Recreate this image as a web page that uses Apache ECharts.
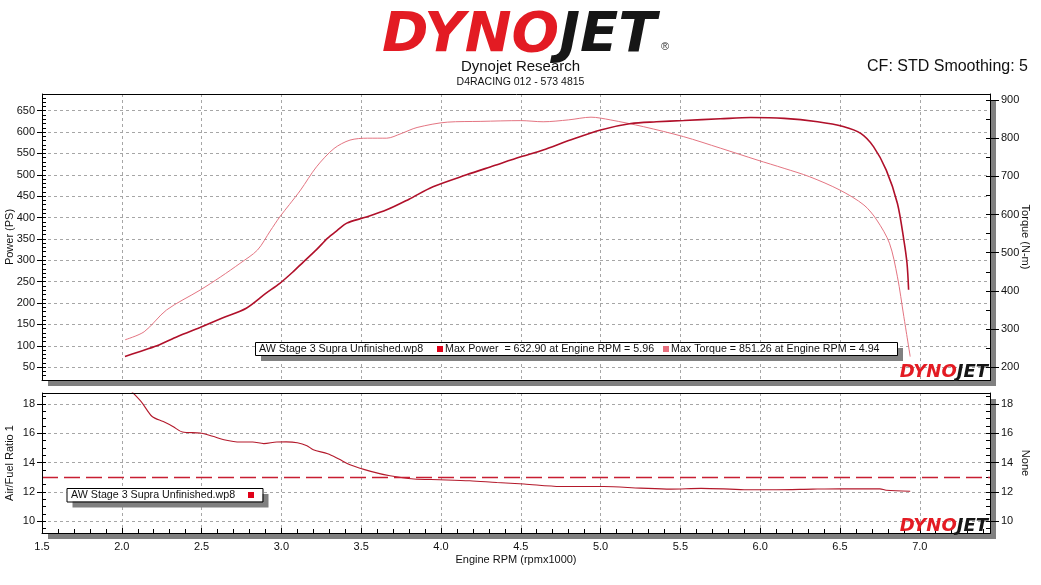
<!DOCTYPE html>
<html>
<head>
<meta charset="utf-8">
<title>Dynojet dyno sheet</title>
<script src="https://cdn.jsdelivr.net/npm/echarts@6/dist/echarts.min.js"></script>
<style>
  html, body { margin: 0; padding: 0; background: #fff; }
  #chart { width: 1041px; height: 585px; }
</style>
</head>
<body>
<div id="chart"></div>
<script>
// power run (rpm x1000 / PS)
const powerRpm = [2.02, 2.10, 2.22, 2.35, 2.49, 2.63, 2.78, 2.90, 2.99, 3.07, 3.14, 3.22, 3.29, 3.35, 3.41, 3.52, 3.66, 3.80, 3.95, 4.16, 4.33, 4.50, 4.64, 4.80, 5.00, 5.19, 5.35, 5.52, 5.75, 5.94, 6.15, 6.36, 6.52, 6.63, 6.71, 6.79, 6.86, 6.90, 6.92, 6.93];
const powerPs = [75, 85, 100, 122, 143, 165, 188, 222, 246, 272, 297, 325, 352, 370, 387, 400, 418, 443, 472, 500, 521, 542, 558, 580, 605, 620, 624, 627, 631, 634, 632, 624, 613, 597, 566, 511, 433, 348, 293, 231];

// torque (N-m)
const torqueRpm = [2.02, 2.14, 2.28, 2.49, 2.62, 2.74, 2.85, 2.93, 2.99, 3.05, 3.12, 3.22, 3.33, 3.43, 3.54, 3.66, 3.75, 3.85, 4.04, 4.25, 4.50, 4.64, 4.80, 4.94, 5.06, 5.27, 5.52, 5.75, 5.98, 6.15, 6.31, 6.50, 6.65, 6.73, 6.81, 6.86, 6.90, 6.94];
const torqueNm = [272, 293, 350, 402, 437, 472, 507, 557, 594, 626, 664, 725, 773, 795, 800, 800, 812, 828, 842, 844, 846, 843, 848, 855, 848, 830, 804, 774, 743, 721, 699, 664, 625, 586, 525, 437, 333, 228];

// air/fuel ratio
const afrRpm = [2.02, 2.12, 2.19, 2.26, 2.32, 2.38, 2.49, 2.57, 2.64, 2.74, 2.82, 2.89, 2.97, 3.03, 3.10, 3.16, 3.20, 3.29, 3.36, 3.43, 3.56, 3.68, 3.83, 3.99, 4.18, 4.35, 4.52, 4.75, 5.02, 5.25, 5.44, 5.63, 5.81, 5.90, 6.10, 6.33, 6.50, 6.75, 6.79, 6.94];
const afrValue = [19.3, 18.18, 17.15, 16.8, 16.47, 16.09, 16.02, 15.8, 15.57, 15.41, 15.41, 15.3, 15.41, 15.42, 15.36, 15.16, 14.88, 14.61, 14.25, 13.86, 13.41, 13.11, 12.89, 12.84, 12.77, 12.65, 12.55, 12.38, 12.38, 12.27, 12.2, 12.25, 12.2, 12.16, 12.16, 12.2, 12.22, 12.22, 12.12, 12.05];
const afrTarget = 13.0;

// tick labels
const psTicks = [50, 100, 150, 200, 250, 300, 350, 400, 450, 500, 550, 600, 650];
const nmTicks = [200, 300, 400, 500, 600, 700, 800, 900];
const afrTicks = [10, 12, 14, 16, 18];

const psMinor = [];
for (let v = 30; v <= 680; v += 10) psMinor.push(v);
const nmMinor = [];
for (let v = 200; v <= 900; v += 50) nmMinor.push(v);
const afrMinor = [];
for (let v = 9.5; v <= 18.5; v += 0.5) afrMinor.push(v);

const FONT = 'Liberation Sans';
const INK = '#111';
const gridLine = { show: true, lineStyle: { color: '#a6a6a6', type: [3, 3], width: 1 } };

function pairs(xs, ys) { return xs.map((x, i) => [x, ys[i]]); }

function majorAxis(grid, pos, min, max, ticks, name, opts) {
  return {
    type: 'value', gridIndex: grid, position: pos, min: min, max: max,
    axisLine: { show: true, lineStyle: { color: '#000' } },
    axisTick: { show: true, customValues: ticks, length: opts.tick, lineStyle: { color: '#000' } },
    axisLabel: { customValues: ticks, color: INK, fontSize: 11, fontFamily: FONT, margin: opts.margin },
    splitLine: opts.split ? gridLine : { show: false },
    name: name, nameLocation: 'middle', nameGap: opts.gap, nameRotate: opts.rotate, nameMoveOverlap: false,
    nameTextStyle: { color: INK, fontSize: 11, fontFamily: FONT }
  };
}
function minorAxis(grid, pos, min, max, ticks) {
  return {
    type: 'value', gridIndex: grid, position: pos, min: min, max: max,
    axisLine: { show: false },
    axisTick: { show: true, inside: true, customValues: ticks, length: 4, lineStyle: { color: '#000' } },
    axisLabel: { show: false },
    splitLine: { show: false }
  };
}

const chart = echarts.init(document.getElementById('chart'));

// plot areas (px)
const topBox = { left: 42, top: 94, width: 948, height: 286 };
const botBox = { left: 42, top: 393, width: 948, height: 140 };

const gridBox = {
  show: true, backgroundColor: '#fff', borderWidth: 0, outerBoundsMode: 'none', containLabel: false,
  shadowColor: '#808080', shadowBlur: 0, shadowOffsetX: 6, shadowOffsetY: 6
};

function logoText(x, y, size, align, vAlign) {
  return {
    type: 'text', x: x, y: y, z: 50,
    style: {
      text: '{r|DYNO}{k|JET}', align: align, verticalAlign: vAlign,
      rich: {
        r: { fill: '#e31b23', fontSize: size, fontWeight: 'bold', fontStyle: 'italic', fontFamily: 'DejaVu Sans' },
        k: { fill: '#161616', fontSize: size, fontWeight: 'bold', fontStyle: 'italic', fontFamily: 'DejaVu Sans' }
      }
    }
  };
}
function outline(b, z) {
  return {
    type: 'rect', z: z, silent: true,
    shape: { x: b.left + 0.5, y: b.top + 0.5, width: b.width, height: b.height },
    style: { fill: 'none', stroke: '#000', lineWidth: 1 }
  };
}
function shadowBox(x, y, w, h) {
  return [
    { type: 'rect', z: 40, shape: { x: x, y: y, width: w, height: h },
      style: { fill: '#fff', shadowColor: '#808080', shadowOffsetX: 6, shadowOffsetY: 6, shadowBlur: 0 } },
    { type: 'rect', z: 41, shape: { x: x + 0.5, y: y + 0.5, width: w, height: h },
      style: { fill: 'none', stroke: '#000', lineWidth: 1 } }
  ];
}
function legendText(x, y, text) {
  return { type: 'text', z: 42, x: x, y: y, style: { text: text, fill: INK, fontSize: 10.7, fontFamily: FONT, verticalAlign: 'middle' } };
}
function legendSwatch(x, y, color) {
  return { type: 'rect', z: 42, shape: { x: x, y: y, width: 6, height: 6 }, style: { fill: color } };
}

chart.setOption({
  animation: false,
  backgroundColor: '#fff',
  title: [
    {
      text: 'Dynojet Research', subtext: 'D4RACING 012 - 573 4815',
      left: 'center', top: 54, itemGap: 3,
      textStyle: { fontFamily: FONT, fontSize: 15, fontWeight: 'normal', color: INK },
      subtextStyle: { fontFamily: FONT, fontSize: 10.5, color: INK }
    },
    {
      text: 'CF: STD Smoothing: 5', right: 8, top: 54,
      textStyle: { fontFamily: FONT, fontSize: 16, fontWeight: 'normal', color: INK }
    }
  ],
  grid: [
    Object.assign({ left: topBox.left, top: topBox.top, width: topBox.width, height: topBox.height }, gridBox),
    Object.assign({ left: botBox.left, top: botBox.top, width: botBox.width, height: botBox.height }, gridBox)
  ],
  xAxis: [
    {
      type: 'value', gridIndex: 0, min: 1.5, max: 7.44, interval: 0.5,
      axisLine: { show: true, lineStyle: { color: '#000' } },
      axisTick: { show: false }, axisLabel: { show: false },
      splitLine: gridLine
    },
    {
      type: 'value', gridIndex: 1, min: 1.5, max: 7.44, interval: 0.5,
      axisLine: { show: true, lineStyle: { color: '#000' } },
      axisTick: { show: true, inside: true, length: 5, lineStyle: { color: '#000' } },
      minorTick: { show: true, splitNumber: 5, length: 4, lineStyle: { color: '#000' } },
      axisLabel: { color: INK, fontSize: 11, fontFamily: FONT, margin: 8, showMaxLabel: false,
                   formatter: v => v.toFixed(1) },
      splitLine: gridLine,
      name: 'Engine RPM (rpmx1000)', nameLocation: 'middle', nameGap: 21, nameMoveOverlap: false,
      nameTextStyle: { color: INK, fontSize: 11, fontFamily: FONT }
    }
  ],
  yAxis: [
    majorAxis(0, 'left', 20, 689, psTicks, 'Power (PS)', { tick: 5, margin: 7, split: true, gap: 27 }),
    minorAxis(0, 'left', 20, 689, psMinor),
    majorAxis(0, 'right', 166.7, 915.7, nmTicks, 'Torque (N-m)', { tick: 9, margin: 11, split: false, gap: 30, rotate: -90 }),
    minorAxis(0, 'right', 166.7, 915.7, nmMinor),
    majorAxis(1, 'left', 9.21, 18.75, afrTicks, 'Air/Fuel Ratio 1', { tick: 5, margin: 7, split: true, gap: 27 }),
    minorAxis(1, 'left', 9.21, 18.75, afrMinor),
    majorAxis(1, 'right', 9.21, 18.75, afrTicks, 'None', { tick: 9, margin: 11, split: false, gap: 30, rotate: -90 }),
    minorAxis(1, 'right', 9.21, 18.75, afrMinor)
  ],
  series: [
    {
      name: 'Max Power', type: 'line', xAxisIndex: 0, yAxisIndex: 0,
      data: pairs(powerRpm, powerPs), showSymbol: false, smooth: 0.3, z: 4,
      lineStyle: { color: '#b0102a', width: 1.6 }
    },
    {
      name: 'Max Torque', type: 'line', xAxisIndex: 0, yAxisIndex: 2,
      data: pairs(torqueRpm, torqueNm), showSymbol: false, smooth: 0.3, z: 3,
      lineStyle: { color: '#e47582', width: 1 }
    },
    {
      name: 'AFR', type: 'line', xAxisIndex: 1, yAxisIndex: 4,
      data: pairs(afrRpm, afrValue), showSymbol: false, smooth: 0.3,
      lineStyle: { color: '#b3192b', width: 1.1 },
      markLine: {
        silent: true, symbol: 'none', label: { show: false },
        lineStyle: { color: '#c81e32', type: [16, 6], width: 1.3 },
        data: [{ yAxis: afrTarget }]
      }
    }
  ],
  graphic: [
    // header logo
    logoText(382, 36.5, 56, 'left', 'middle'),
    { type: 'text', x: 661, y: 47, style: { text: '®', fill: '#333', fontSize: 11, fontFamily: FONT, verticalAlign: 'middle' } },
    // plot frames
    outline(topBox, 30),
    outline(botBox, 30),
    // watermarks
    logoText(988, 381, 18, 'right', 'bottom'),
    logoText(988, 535, 18, 'right', 'bottom'),
    // power/torque legend
    ...shadowBox(255, 342, 642, 13),
    legendText(259, 348.7, 'AW Stage 3 Supra Unfinished.wp8'),
    legendSwatch(437, 346, '#e00018'),
    legendText(445, 348.7, 'Max Power  = 632.90 at Engine RPM = 5.96'),
    legendSwatch(663, 346, '#e8707e'),
    legendText(671, 348.7, 'Max Torque = 851.26 at Engine RPM = 4.94'),
    // AFR legend
    ...shadowBox(66.5, 488, 196, 13.5),
    legendText(71, 495, 'AW Stage 3 Supra Unfinished.wp8'),
    legendSwatch(248, 492, '#e00018')
  ]
});
</script>
</body>
</html>
